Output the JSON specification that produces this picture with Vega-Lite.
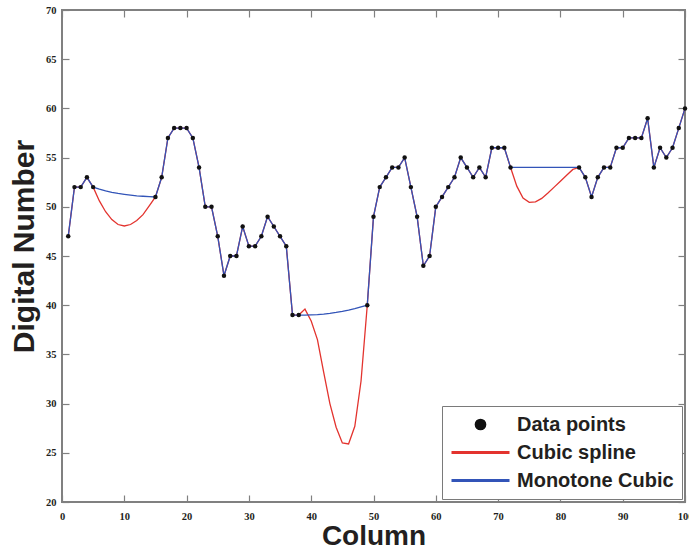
{
  "$schema": "https://vega.github.io/schema/vega-lite/v6.json",
  "width": 623,
  "height": 492,
  "autosize": {"type": "none"},
  "padding": {"left": 62, "top": 10, "right": 4, "bottom": 49},
  "background": "white",
  "data": {"values": [
    {"x":1,"dn":47,"spline":47,"pchip":47},
    {"x":2,"dn":52,"spline":52,"pchip":52},
    {"x":3,"dn":52,"spline":52,"pchip":52},
    {"x":4,"dn":53,"spline":53,"pchip":53},
    {"x":5,"dn":52,"spline":52,"pchip":52},
    {"x":6,"spline":50.6,"pchip":51.8},
    {"x":7,"spline":49.5,"pchip":51.62},
    {"x":8,"spline":48.7,"pchip":51.47},
    {"x":9,"spline":48.2,"pchip":51.36},
    {"x":10,"spline":48.05,"pchip":51.27},
    {"x":11,"spline":48.2,"pchip":51.19},
    {"x":12,"spline":48.6,"pchip":51.12},
    {"x":13,"spline":49.2,"pchip":51.07},
    {"x":14,"spline":50.1,"pchip":51.03},
    {"x":15,"dn":51,"spline":51,"pchip":51},
    {"x":16,"dn":53,"spline":53,"pchip":53},
    {"x":17,"dn":57,"spline":57,"pchip":57},
    {"x":18,"dn":58,"spline":58,"pchip":58},
    {"x":19,"dn":58,"spline":58,"pchip":58},
    {"x":20,"dn":58,"spline":58,"pchip":58},
    {"x":21,"dn":57,"spline":57,"pchip":57},
    {"x":22,"dn":54,"spline":54,"pchip":54},
    {"x":23,"dn":50,"spline":50,"pchip":50},
    {"x":24,"dn":50,"spline":50,"pchip":50},
    {"x":25,"dn":47,"spline":47,"pchip":47},
    {"x":26,"dn":43,"spline":43,"pchip":43},
    {"x":27,"dn":45,"spline":45,"pchip":45},
    {"x":28,"dn":45,"spline":45,"pchip":45},
    {"x":29,"dn":48,"spline":48,"pchip":48},
    {"x":30,"dn":46,"spline":46,"pchip":46},
    {"x":31,"dn":46,"spline":46,"pchip":46},
    {"x":32,"dn":47,"spline":47,"pchip":47},
    {"x":33,"dn":49,"spline":49,"pchip":49},
    {"x":34,"dn":48,"spline":48,"pchip":48},
    {"x":35,"dn":47,"spline":47,"pchip":47},
    {"x":36,"dn":46,"spline":46,"pchip":46},
    {"x":37,"dn":39,"spline":39,"pchip":39},
    {"x":38,"dn":39,"spline":39,"pchip":39},
    {"x":39,"spline":39.6,"pchip":39.0},
    {"x":40,"spline":38.4,"pchip":39.02},
    {"x":41,"spline":36.5,"pchip":39.05},
    {"x":42,"spline":33.2,"pchip":39.1},
    {"x":43,"spline":30.0,"pchip":39.17},
    {"x":44,"spline":27.6,"pchip":39.26},
    {"x":45,"spline":26.0,"pchip":39.37},
    {"x":46,"spline":25.9,"pchip":39.5},
    {"x":47,"spline":27.7,"pchip":39.65},
    {"x":48,"spline":32.3,"pchip":39.82},
    {"x":49,"dn":40,"spline":40,"pchip":40},
    {"x":50,"dn":49,"spline":49,"pchip":49},
    {"x":51,"dn":52,"spline":52,"pchip":52},
    {"x":52,"dn":53,"spline":53,"pchip":53},
    {"x":53,"dn":54,"spline":54,"pchip":54},
    {"x":54,"dn":54,"spline":54,"pchip":54},
    {"x":55,"dn":55,"spline":55,"pchip":55},
    {"x":56,"dn":52,"spline":52,"pchip":52},
    {"x":57,"dn":49,"spline":49,"pchip":49},
    {"x":58,"dn":44,"spline":44,"pchip":44},
    {"x":59,"dn":45,"spline":45,"pchip":45},
    {"x":60,"dn":50,"spline":50,"pchip":50},
    {"x":61,"dn":51,"spline":51,"pchip":51},
    {"x":62,"dn":52,"spline":52,"pchip":52},
    {"x":63,"dn":53,"spline":53,"pchip":53},
    {"x":64,"dn":55,"spline":55,"pchip":55},
    {"x":65,"dn":54,"spline":54,"pchip":54},
    {"x":66,"dn":53,"spline":53,"pchip":53},
    {"x":67,"dn":54,"spline":54,"pchip":54},
    {"x":68,"dn":53,"spline":53,"pchip":53},
    {"x":69,"dn":56,"spline":56,"pchip":56},
    {"x":70,"dn":56,"spline":56,"pchip":56},
    {"x":71,"dn":56,"spline":56,"pchip":56},
    {"x":72,"dn":54,"spline":54,"pchip":54},
    {"x":73,"spline":52.1,"pchip":54},
    {"x":74,"spline":50.9,"pchip":54},
    {"x":75,"spline":50.45,"pchip":54},
    {"x":76,"spline":50.5,"pchip":54},
    {"x":77,"spline":50.85,"pchip":54},
    {"x":78,"spline":51.4,"pchip":54},
    {"x":79,"spline":52.0,"pchip":54},
    {"x":80,"spline":52.6,"pchip":54},
    {"x":81,"spline":53.2,"pchip":54},
    {"x":82,"spline":53.8,"pchip":54},
    {"x":83,"dn":54,"spline":54,"pchip":54},
    {"x":84,"dn":53,"spline":53,"pchip":53},
    {"x":85,"dn":51,"spline":51,"pchip":51},
    {"x":86,"dn":53,"spline":53,"pchip":53},
    {"x":87,"dn":54,"spline":54,"pchip":54},
    {"x":88,"dn":54,"spline":54,"pchip":54},
    {"x":89,"dn":56,"spline":56,"pchip":56},
    {"x":90,"dn":56,"spline":56,"pchip":56},
    {"x":91,"dn":57,"spline":57,"pchip":57},
    {"x":92,"dn":57,"spline":57,"pchip":57},
    {"x":93,"dn":57,"spline":57,"pchip":57},
    {"x":94,"dn":59,"spline":59,"pchip":59},
    {"x":95,"dn":54,"spline":54,"pchip":54},
    {"x":96,"dn":56,"spline":56,"pchip":56},
    {"x":97,"dn":55,"spline":55,"pchip":55},
    {"x":98,"dn":56,"spline":56,"pchip":56},
    {"x":99,"dn":58,"spline":58,"pchip":58},
    {"x":100,"dn":60,"spline":60,"pchip":60}
  ]},
  "layer": [
    {
      "mark": {"type": "line", "strokeWidth": 1.3},
      "encoding": {
        "x": {"field": "x", "type": "quantitative", "scale": {"domain": [0, 100], "nice": false},
              "axis": {"orient": "top", "labels": false, "title": null, "values": [0,10,20,30,40,50,60,70,80,90,100]}},
        "y": {"field": "spline", "type": "quantitative", "scale": {"domain": [20, 70], "nice": false, "zero": false},
              "axis": {"orient": "right", "labels": false, "title": null, "values": [20,25,30,35,40,45,50,55,60,65,70]}},
        "color": {
          "datum": "Cubic spline",
          "scale": {"domain": ["Data points", "Cubic spline", "Monotone Cubic"], "range": ["#111111", "#e3332e", "#3254b8"]},
          "legend": {
            "title": null,
            "orient": "bottom-right",
            "offset": 3,
            "fillColor": "white",
            "strokeColor": "#7a7a7a",
            "padding": 8,
            "labelFont": "Liberation Sans",
            "labelFontWeight": "bold",
            "labelFontSize": 20,
            "labelColor": "#231f20",
            "labelLimit": 300,
            "symbolSize": 3364,
            "symbolStrokeWidth": 3,
            "clipHeight": 21,
            "rowPadding": 7,
            "labelOffset": 6,
            "symbolOffset": 0,
            "encode": {"symbols": {"update": {
              "shape": {"signal": "datum.value === 'Data points' ? 'M -0.15,0 A 0.15,0.15 0 1,1 0.15,0 A 0.15,0.15 0 1,1 -0.15,0 Z' : 'M -1,0 L 1,0'"},
              "size": {"value": 3364},
              "strokeWidth": {"value": 3},
              "fill": {"signal": "datum.value === 'Data points' ? '#111111' : 'transparent'"},
              "stroke": {"signal": "datum.value === 'Data points' ? '#111111' : (datum.value === 'Cubic spline' ? '#e3332e' : '#28359a')"},
              "opacity": {"value": 1}
            }}}
          }
        }
      }
    },
    {
      "mark": {"type": "line", "strokeWidth": 1.3},
      "encoding": {
        "x": {"field": "x", "type": "quantitative", "axis": null},
        "y": {"field": "pchip", "type": "quantitative", "axis": null},
        "color": {"datum": "Monotone Cubic"}
      }
    },
    {
      "mark": {"type": "point", "filled": true, "size": 20, "opacity": 1},
      "encoding": {
        "x": {"field": "x", "type": "quantitative",
              "axis": {"orient": "bottom", "title": "Column", "values": [0,10,20,30,40,50,60,70,80,90,100], "labelPadding": 16, "titlePadding": 1}},
        "y": {"field": "dn", "type": "quantitative",
              "axis": {"orient": "left", "title": "Digital Number", "values": [20,25,30,35,40,45,50,55,60,65,70], "labelPadding": 13,
                       "titleX": -29, "titleY": 236, "titleBaseline": "alphabetic", "titleFontSize": 30}},
        "color": {"datum": "Data points"}
      }
    }
  ],
  "resolve": {"axis": {"x": "independent", "y": "independent"}},
  "config": {
    "view": {"stroke": "#808080", "strokeWidth": 2},
    "axis": {
      "grid": false,
      "domain": false,
      "tickColor": "#808080",
      "tickWidth": 1.2,
      "tickSize": -7,
      "labelFlush": false,
      "labelFont": "Liberation Serif",
      "labelFontWeight": "bold",
      "labelFontSize": 10.5,
      "labelColor": "#231f20",
      "titleFont": "Liberation Sans",
      "titleFontWeight": "bold",
      "titleFontSize": 28,
      "titleColor": "#231f20"
    }
  }
}
